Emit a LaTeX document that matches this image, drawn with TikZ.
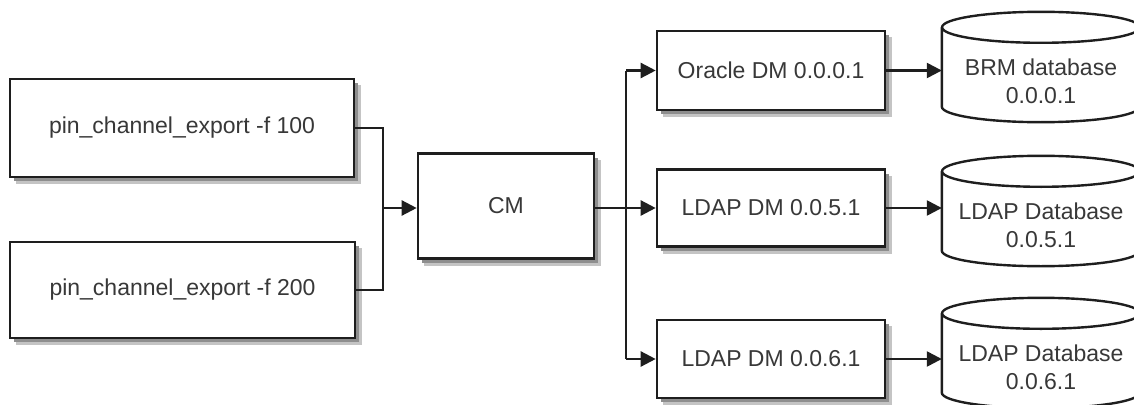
\documentclass[tikz,border=0pt]{standalone}
\usepackage{fontspec}
\setmainfont{Liberation Sans}
\usetikzlibrary{arrows.meta,calc}
\definecolor{inkline}{HTML}{1E1E1E}
\definecolor{inktext}{HTML}{383838}
\definecolor{shadowouter}{HTML}{C4C4C4}
\definecolor{shadowinner}{HTML}{8E8E8E}
\tikzset{
  base/.style={font=\fontsize{23}{28}\selectfont, text=inktext},
  procbox/.style={base, rectangle, draw=inkline, line width=2.6pt, fill=white},
  dbnode/.style={base, rectangle, minimum width=198pt, minimum height=110pt,
    align=center, inner sep=0pt},
  dbline/.style={draw=inkline, line width=2.4pt},
  conn/.style={draw=inkline, line width=2.4pt},
  flow/.style={conn, -{Triangle[length=15pt,width=15pt]}}
}
% drop shadow: two gray rectangles offset down and right, drawn before the box
\newcommand{\shadowat}[4]{% centre x, centre y, width, height
  \fill[shadowouter] (#1-#3/2+6,#2-#4/2+6) rectangle (#1+#3/2+7,#2+#4/2+7);
  \fill[shadowinner] (#1-#3/2+4,#2-#4/2+4) rectangle (#1+#3/2+4,#2+#4/2+4);
}
\newcommand{\dbshape}[1]{%
  \draw[dbline, fill=white] ($(#1.north west)+(0,15.5)$) -- ($(#1.south west)+(0,-15.5)$)
    arc[start angle=180, end angle=360, x radius=99pt, y radius=15.5pt]
    -- ($(#1.north east)+(0,15.5)$);
  \draw[dbline] ($(#1.north)+(0,15.5)$) ellipse [x radius=99pt, y radius=15.5pt];
}
\begin{document}
\begin{tikzpicture}[x=1pt, y=-1pt]
  \useasboundingbox (0,0) rectangle (1134,404);

  % shadows under the boxes
  \shadowat{182}{128}{344}{98}
  \shadowat{182.5}{290}{345}{96}
  \shadowat{506}{206}{176}{105}
  \shadowat{771}{70.5}{228}{79}
  \shadowat{771}{208}{228}{77}
  \shadowat{771}{359}{228}{78}

  % export jobs
  \node[procbox, minimum width=344pt, minimum height=98pt] (exp1) at (182,128) {pin\_channel\_export -f 100};
  \node[procbox, minimum width=345pt, minimum height=96pt] (exp2) at (182.5,290) {pin\_channel\_export -f 200};

  % connection manager
  \node[procbox, minimum width=176pt, minimum height=105pt] (cm) at (506,206) {CM};

  % data managers
  \node[procbox, minimum width=228pt, minimum height=79pt] (dm1) at (771,70.5) {Oracle DM 0.0.0.1};
  \node[procbox, minimum width=228pt, minimum height=77pt] (dm2) at (771,208) {LDAP DM 0.0.5.1};
  \node[procbox, minimum width=228pt, minimum height=78pt] (dm3) at (771,359) {LDAP DM 0.0.6.1};

  % databases
  \node[dbnode] (db1) at (1041,67) {};
  \node[dbnode] (db2) at (1041,211) {};
  \node[dbnode] (db3) at (1041,353) {};
  \dbshape{db1}
  \dbshape{db2}
  \dbshape{db3}
  \node[base, align=center] at ($(db1.center)+(0,14)$) {BRM database\\0.0.0.1};
  \node[base, align=center] at ($(db2.center)+(0,14)$) {LDAP Database\\0.0.5.1};
  \node[base, align=center] at ($(db3.center)+(0,14)$) {LDAP Database\\0.0.6.1};

  % merge of the export jobs into CM
  \coordinate (join) at (383,208);
  \draw[conn] (exp1.east) -- (exp1.east -| join) -- (exp2.east -| join) -- (exp2.east);
  \draw[flow] (join) -- (join -| cm.west);

  % CM fan-out to the data managers
  \coordinate (bus) at (626,208);
  \draw[conn] (cm.east |- bus) -- (bus);
  \draw[flow] (bus |- dm1.west) -- (dm1.west);
  \draw[flow] (cm.east |- bus) -- (bus -| dm2.west);
  \draw[flow] (bus |- dm3.west) -- (dm3.west);
  \draw[conn] (bus |- dm1.west) -- (bus |- dm3.west);

  % data managers to databases
  \draw[flow] (dm1.east) -- (dm1.east -| db1.west);
  \draw[flow] (dm2.east) -- (dm2.east -| db2.west);
  \draw[flow] (dm3.east) -- (dm3.east -| db3.west);
\end{tikzpicture}
\end{document}
